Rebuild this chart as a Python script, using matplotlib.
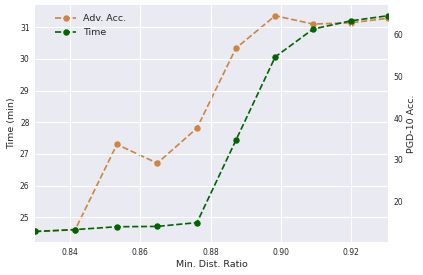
import matplotlib
matplotlib.use("Agg")
import matplotlib.pyplot as plt
import seaborn as sns

# Min. dist. ratio sweep
ratio = [0.830, 0.8414, 0.8533, 0.8648, 0.8761, 0.8872, 0.8984, 0.9092, 0.9200, 0.9305]
time_min = [24.55, 24.61, 24.70, 24.71, 24.83, 27.43, 30.06, 30.94, 31.20, 31.36]
adv_acc = [12.8, 13.2, 33.7, 29.2, 37.6, 56.8, 64.6, 62.6, 62.9, 64.0]

sns.set_style("darkgrid")
plt.rcParams["font.family"] = ["DejaVu Sans"]

fig, ax1 = plt.subplots(figsize=(4.23, 2.75), dpi=100)
fig.subplots_adjust(left=0.083, right=0.917, bottom=0.119, top=0.982)
ax2 = ax1.twinx()
ax2.grid(False)

l_acc, = ax2.plot(ratio, adv_acc, "--o", color="peru", markersize=3.6,
                  linewidth=1.2, label="Adv. Acc.")
l_time, = ax1.plot(ratio, time_min, "--o", color="darkgreen", markersize=3.6,
                   linewidth=1.2, label="Time")
# keep the time line above the accuracy line
ax1.set_zorder(ax2.get_zorder() + 1)
ax1.patch.set_visible(False)
ax2.patch.set_visible(True)
ax2.patch.set_facecolor("#eaeaf2")

ax1.set_xlim(min(ratio), max(ratio))
ax1.set_xticks([0.84, 0.86, 0.88, 0.90, 0.92])
ax1.set_xticklabels(["0.84", "0.86", "0.88", "0.90", "0.92"])

for ax in (ax1, ax2):
    ax.tick_params(labelsize=5.5, length=0, pad=4)
    for s in ax.spines.values():
        s.set_visible(False)

ax1.set_xlabel("Min. Dist. Ratio", fontsize=6.8, labelpad=2)
ax1.set_ylabel("Time (min)", fontsize=6.8, labelpad=3)
ax2.set_ylabel("PGD-10 Acc.", fontsize=6.8, labelpad=3)

ax1.legend([l_acc, l_time], ["Adv. Acc.", "Time"], loc="upper left",
           bbox_to_anchor=(0.03, 1.0), frameon=False, fontsize=6.8,
           borderaxespad=0.6, handlelength=2.2)

fig.savefig("out.png", dpi=100)
